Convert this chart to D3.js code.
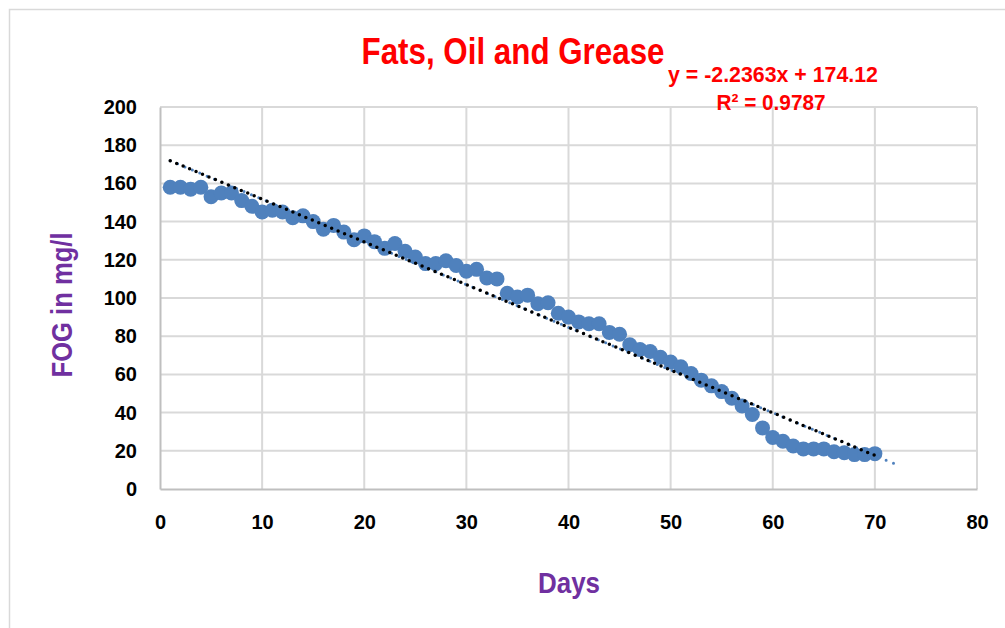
<!DOCTYPE html>
<html>
<head>
<meta charset="utf-8">
<script src="https://cdn.jsdelivr.net/npm/d3@7"></script>
<style>
  body { margin: 0; background: #fff; }
  text { font-family: "Liberation Sans", Arial, sans-serif; font-weight: bold; }
</style>
</head>
<body>
<div id="chart"></div>
<script>
// days and FOG readings (mg/l)
var days = [1,2,3,4,5,6,7,8,9,10,11,12,13,14,15,16,17,18,19,20,
            21,22,23,24,25,26,27,28,29,30,31,32,33,34,35,36,37,38,39,40,
            41,42,43,44,45,46,47,48,49,50,51,52,53,54,55,56,57,58,59,60,
            61,62,63,64,65,66,67,68,69,70]
var fog = [158,158,157,158,153,155,155,151,148,145,
           146,145,142,143,140,136,138,134.5,130.5,132.5,
           129.5,126,128.5,124.5,121.5,118,118,119.5,117,114,
           115,110.5,110,102.5,100.5,101.5,97,97.5,92,90,
           87.5,86.5,86.5,82,81,75.5,73,72,69,66.5,
           64,60.5,57,54,51,47.5,43.5,39,32,27,
           25,22.5,21,21,21,19.5,19,18,18,18.5]

var xTicks = [0,10,20,30,40,50,60,70,80]
var yTicks = [0,20,40,60,80,100,120,140,160,180,200]

// linear trendline from the chart label
var slope = -2.2363
var intercept = 174.12
var rSquared = "0.9787"
var trendRange = [1, 70]
var forecastRange = [1, 72]

function drawChart(){

    const width = 1005
    const height = 628
    const plot = {left: 160, right: 977, top: 107, bottom: 489}

    const svg = d3.select('#chart')
      .append("svg")
      .attr("width", width)
      .attr("height", height)

    // chart border
    svg.append("rect")
      .attr("x", 9.5).attr("y", 9.5)
      .attr("width", 1020).attr("height", 640)
      .attr("fill", "none")
      .attr("stroke", "#d9d9d9")
      .attr("stroke-width", 1.5)

    var x = d3.scaleLinear().domain([0, 80]).range([plot.left, plot.right])
    var y = d3.scaleLinear().domain([0, 200]).range([plot.bottom, plot.top])

    // gridlines
    svg.append("g")
      .selectAll("line")
      .data(yTicks.slice(1))
      .enter()
      .append("line")
      .attr("x1", plot.left).attr("x2", plot.right)
      .attr("y1", function(d){ return y(d) }).attr("y2", function(d){ return y(d) })
      .attr("stroke", "#d9d9d9").attr("stroke-width", 2)

    svg.append("g")
      .selectAll("line")
      .data(xTicks.slice(1))
      .enter()
      .append("line")
      .attr("y1", plot.top).attr("y2", plot.bottom)
      .attr("x1", function(d){ return x(d) }).attr("x2", function(d){ return x(d) })
      .attr("stroke", "#d9d9d9").attr("stroke-width", 2)

    // axes, no tick marks
    var xAxis = svg.append("g")
      .attr("transform", "translate(0," + plot.bottom + ")")
      .call(d3.axisBottom(x).tickValues(xTicks).tickSize(0).tickPadding(26).tickFormat(d3.format("d")))
    var yAxis = svg.append("g")
      .attr("transform", "translate(" + plot.left + ",0)")
      .call(d3.axisLeft(y).tickValues(yTicks).tickSize(0).tickPadding(23).tickFormat(d3.format("d")))

    xAxis.select(".domain").attr("stroke", "#bfbfbf").attr("stroke-width", 2)
    yAxis.select(".domain").attr("stroke", "#bfbfbf").attr("stroke-width", 2)
    xAxis.selectAll("text").attr("fill", "#000").style("font-size", "20px")
      .style("font-family", "'Liberation Sans', Arial, sans-serif").style("font-weight", "bold")
    yAxis.selectAll("text").attr("fill", "#000").style("font-size", "20px")
      .style("font-family", "'Liberation Sans', Arial, sans-serif").style("font-weight", "bold")

    // blue dotted trendline with forward forecast (sits underneath)
    svg.append("line")
      .attr("x1", x(forecastRange[0])).attr("y1", y(slope*forecastRange[0] + intercept))
      .attr("x2", x(forecastRange[1])).attr("y2", y(slope*forecastRange[1] + intercept))
      .attr("stroke", "#4f81bd").attr("stroke-width", 3)
      .attr("stroke-linecap", "round").attr("stroke-dasharray", "0,8")

    // data points
    svg.append('g')
      .selectAll("dot")
      .data(d3.zip(days, fog))
      .enter()
      .append("circle")
      .attr("cx", function (d) { return x(d[0]); })
      .attr("cy", function (d) { return y(d[1]); })
      .attr("r", 7.5)
      .style("fill", "#4f81bd")

    // black dotted trendline
    svg.append("line")
      .attr("x1", x(trendRange[0])).attr("y1", y(slope*trendRange[0] + intercept))
      .attr("x2", x(trendRange[1])).attr("y2", y(slope*trendRange[1] + intercept))
      .attr("stroke", "#000").attr("stroke-width", 3.5)
      .attr("stroke-linecap", "round").attr("stroke-dasharray", "0,7")

    // title (condensed look)
    svg.append("text")
      .attr("x", 513).attr("y", 64)
      .attr("text-anchor", "middle")
      .attr("fill", "#ff0000")
      .style("font-size", "36px")
      .attr("textLength", 303).attr("lengthAdjust", "spacingAndGlyphs")
      .text("Fats, Oil and Grease")

    // trendline equation
    svg.append("text")
      .attr("x", 773).attr("y", 82)
      .attr("text-anchor", "middle")
      .attr("fill", "#ff0000")
      .style("font-size", "22px")
      .attr("textLength", 210).attr("lengthAdjust", "spacingAndGlyphs")
      .text("y = " + slope + "x + " + intercept)

    svg.append("text")
      .attr("x", 771).attr("y", 110)
      .attr("text-anchor", "middle")
      .attr("fill", "#ff0000")
      .style("font-size", "22px")
      .attr("textLength", 109).attr("lengthAdjust", "spacingAndGlyphs")
      .text("R² = " + rSquared)

    // axis titles
    svg.append("text")
      .attr("x", 569).attr("y", 593)
      .attr("text-anchor", "middle")
      .attr("fill", "#7030a0")
      .style("font-size", "29px")
      .attr("textLength", 62).attr("lengthAdjust", "spacingAndGlyphs")
      .text("Days")

    svg.append("text")
      .attr("transform", "translate(72,305) rotate(-90)")
      .attr("text-anchor", "middle")
      .attr("fill", "#7030a0")
      .style("font-size", "29px")
      .attr("textLength", 145).attr("lengthAdjust", "spacingAndGlyphs")
      .text("FOG in mg/l")
}

drawChart()
</script>
</body>
</html>
